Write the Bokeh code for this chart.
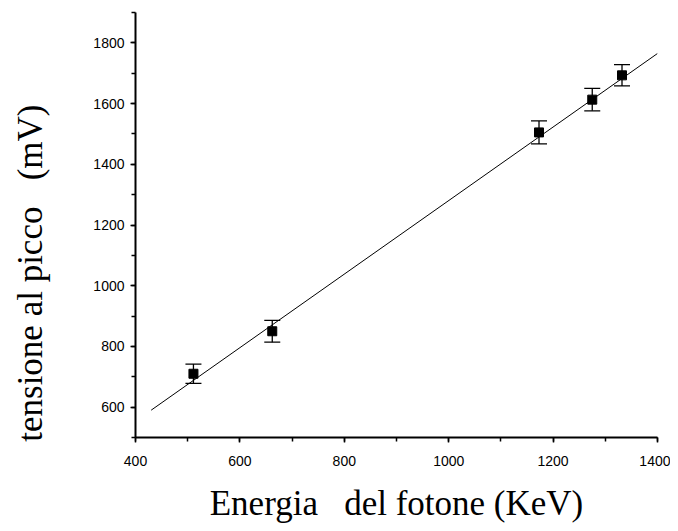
from bokeh.plotting import figure
from bokeh.models import ColumnDataSource, Whisker, TeeHead, SingleIntervalTicker, Range1d
from bokeh.embed import file_html
from bokeh.resources import INLINE

# data
energy = [511, 662, 1173, 1275, 1332]
voltage = [710, 850, 1505, 1613, 1693]
err = [32, 36, 38, 37, 35]
fit_x = [430, 1400]
fit_y = [590, 1765]

x_ticks_interval = 200
y_ticks_interval = 200

NB = "\u00a0"
x_label = "Energia" + NB * 3 + "del fotone (KeV)"
# trailing no-break spaces push the centred title downwards, as in the original
y_label = "tensione al picco" + NB * 3 + "(mV)" + NB * 11

src = ColumnDataSource(dict(
    x=energy, y=voltage,
    lo=[v - e for v, e in zip(voltage, err)],
    hi=[v + e for v, e in zip(voltage, err)],
))

p = figure(width=670, height=525, output_backend="svg", toolbar_location=None,
           x_range=Range1d(400, 1400), y_range=Range1d(500, 1900),
           min_border_left=135, min_border_right=13, min_border_top=12, min_border_bottom=88)
p.outline_line_color = None
p.grid.grid_line_color = None
p.background_fill_color = "white"
p.border_fill_color = "white"

p.line(fit_x, fit_y, line_color="black", line_width=1)

w = Whisker(source=src, base="x", lower="lo", upper="hi", dimension="height",
            line_color="black", line_width=1.3,
            lower_head=TeeHead(size=16, line_color="black", line_width=1.3),
            upper_head=TeeHead(size=16, line_color="black", line_width=1.3))
p.add_layout(w)
p.scatter("x", "y", source=src, marker="square", size=9, fill_color="black", line_color="black")

for ax in (p.xaxis[0], p.yaxis[0]):
    ax.axis_line_width = 2
    ax.axis_line_color = "black"
    ax.major_tick_line_width = 1.5
    ax.minor_tick_line_width = 1.5
    ax.major_tick_out = 5
    ax.major_tick_in = 0
    ax.minor_tick_out = 4
    ax.minor_tick_in = 0
    ax.major_label_text_font = "Liberation Sans"
    ax.major_label_text_font_size = "14px"
    ax.major_label_text_color = "black"
    ax.axis_label_text_font = "Liberation Serif"
    ax.axis_label_text_font_size = "35px"
    ax.axis_label_text_font_style = "normal"
    ax.axis_label_text_color = "black"

p.xaxis[0].ticker = SingleIntervalTicker(interval=x_ticks_interval, num_minor_ticks=2)
p.yaxis[0].ticker = SingleIntervalTicker(interval=y_ticks_interval, num_minor_ticks=2)
p.xaxis[0].axis_label = x_label
p.yaxis[0].axis_label = y_label
p.xaxis[0].axis_label_standoff = 15
p.yaxis[0].axis_label_standoff = 40
p.xaxis[0].major_label_standoff = 13
p.yaxis[0].major_label_standoff = 6

open("out.html", "w").write(file_html(p, INLINE))
